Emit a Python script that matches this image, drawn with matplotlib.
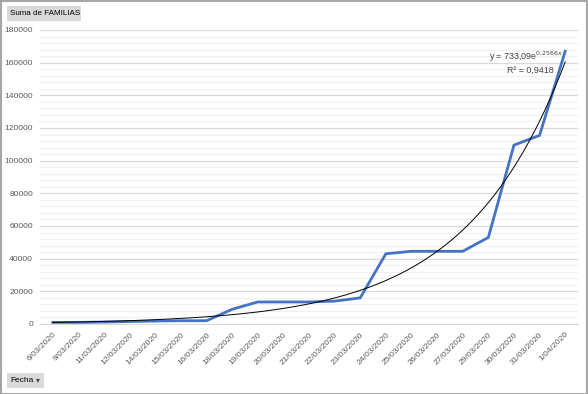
import matplotlib.pyplot as plt
import numpy as np
from matplotlib.patches import Rectangle

fechas = ["6/03/2020", "9/03/2020", "11/03/2020", "12/03/2020", "14/03/2020",
          "15/03/2020", "16/03/2020", "18/03/2020", "19/03/2020", "20/03/2020",
          "21/03/2020", "22/03/2020", "23/03/2020", "24/03/2020", "25/03/2020",
          "26/03/2020", "27/03/2020", "29/03/2020", "30/03/2020", "31/03/2020",
          "1/04/2020"]
familias = [1000, 1000, 1200, 1500, 1800, 2000, 2000, 9000, 13500, 13500,
            13500, 14000, 16000, 43000, 44500, 44500, 44500, 53000, 109500,
            115500, 167000]
trend_a = 733.09
trend_b = 0.2566

plt.rcParams['font.family'] = ['Liberation Sans', 'DejaVu Sans']

fig = plt.figure(figsize=(5.88, 3.94), dpi=100)
ax = fig.add_axes([40 / 588, 1 - 324 / 394, 538 / 588, 294 / 394])

x = np.arange(1, len(fechas) + 1)
ax.set_xlim(0.5, len(fechas) + 0.5)
ax.set_ylim(0, 180000)

ax.set_yticks(np.arange(0, 180001, 20000))
ax.set_yticks(np.arange(0, 180001, 4000), minor=True)
ax.grid(which='major', axis='y', color='#d9d9d9', linewidth=0.9)
ax.grid(which='minor', axis='y', color='#f0f0f0', linewidth=0.8)
ax.set_axisbelow(True)

ax.plot(x, familias, color='#4472C4', linewidth=2.0, solid_joinstyle='miter', zorder=3)

# exponential trendline (Excel)
xs = np.linspace(1, len(fechas), 200)
ax.plot(xs, trend_a * np.exp(trend_b * xs), color='black', linewidth=0.7, zorder=4)

ax.set_xticks(x)
ax.set_xticklabels(fechas, rotation=45, ha='right', rotation_mode='anchor',
                   fontsize=6.1, color='#595959')
ax.tick_params(axis='y', which='both', labelsize=6.1, labelcolor='#595959', length=0, pad=5)
ax.tick_params(axis='x', which='both', length=0, pad=5)
for s in ['top', 'right', 'left']:
    ax.spines[s].set_visible(False)
ax.spines['bottom'].set_color('#d9d9d9')

ax.text(0.972, 0.908, "y = 733,09e$^{0{,}2566x}$", transform=ax.transAxes,
        ha='right', va='center', fontsize=6.4, color='#404040')
ax.text(0.955, 0.864, "R² = 0,9418", transform=ax.transAxes,
        ha='right', va='center', fontsize=6.4, color='#404040')

# pivot chart buttons
fig.patches.append(Rectangle((7 / 588, 1 - 21 / 394), 74 / 588, 15 / 394,
                             transform=fig.transFigure, facecolor='#dadada',
                             edgecolor='none'))
fig.text(10 / 588, 1 - 13.5 / 394, "Suma de FAMILIAS", fontsize=5.8,
         va='center', ha='left', color='black')
fig.patches.append(Rectangle((7 / 588, 1 - 388 / 394), 37 / 588, 15 / 394,
                             transform=fig.transFigure, facecolor='#dadada',
                             edgecolor='none'))
fig.text(10 / 588, 1 - 380.5 / 394, "Fecha", fontsize=6,
         va='center', ha='left', color='black')
fig.text(36 / 588, 1 - 379.5 / 394, "▾", fontsize=5.5, family='DejaVu Sans',
         va='center', ha='left', color='#404040')

# outer border
fig.patches.append(Rectangle((0.5 / 588, 0.5 / 394), 586.5 / 588, 392.5 / 394,
                             transform=fig.transFigure, facecolor='none',
                             edgecolor='#a6a6a6', linewidth=1.5))

plt.savefig('out.png', dpi=100)
plt.close(fig)
